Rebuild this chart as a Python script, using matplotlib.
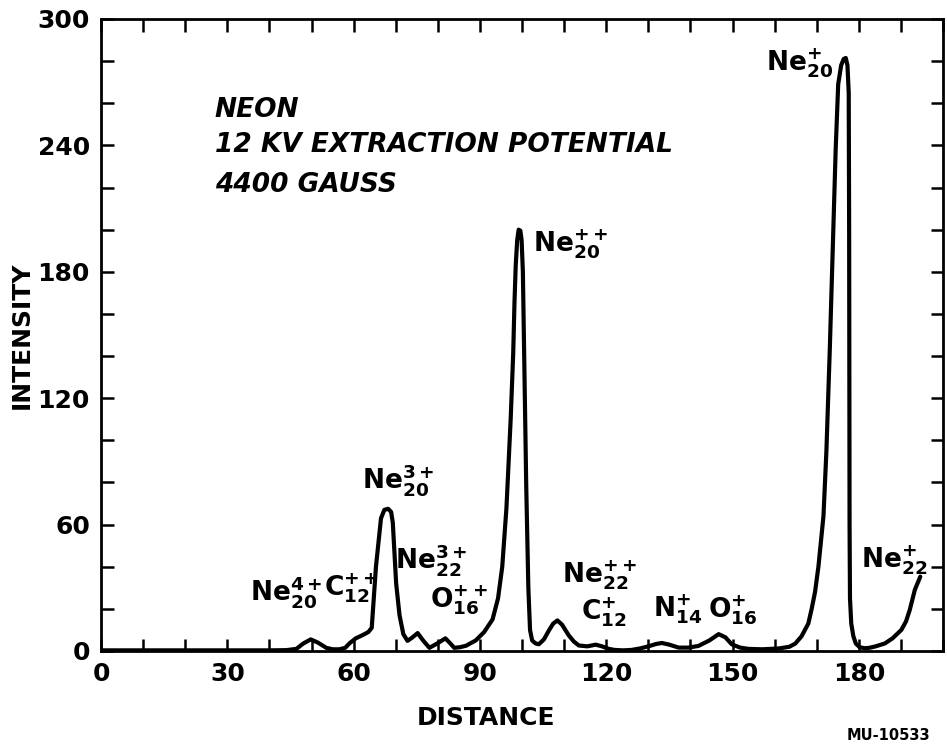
import matplotlib
matplotlib.use('Agg')
import matplotlib.pyplot as plt
from matplotlib.ticker import MultipleLocator

plt.rcParams['font.family'] = 'DejaVu Sans'
plt.rcParams['mathtext.fontset'] = 'custom'
plt.rcParams['mathtext.rm'] = 'DejaVu Sans:bold'
plt.rcParams['mathtext.it'] = 'DejaVu Sans:bold:italic'
plt.rcParams['mathtext.bf'] = 'DejaVu Sans:bold'

# trace (distance, intensity)
distance = [0, 10, 20, 30, 40, 44, 46.4, 48, 49.8, 51.5, 53.5, 55, 56.6, 58, 59, 60.5,
            62.2, 63.5, 64.3, 65.3, 66.5, 67.3, 68.2, 68.9, 69.3, 70.1, 70.9, 71.8, 72.8,
            74, 75.2, 76.5, 78, 79.8, 81.8, 83, 83.9, 85.3, 86.7, 89, 91, 93, 94.3, 95.3,
            96.3, 97.3, 97.9, 98.2, 98.5, 98.85, 99.2, 99.6, 99.9, 100.2, 100.5, 101.0,
            101.5, 101.9, 102.4, 103.2, 104, 105.2, 106.4, 107.4, 108.4, 109.5, 111.1,
            112.3, 113.5, 115.5, 117.5, 119, 120.6, 122, 124, 126, 128, 130, 131.8, 133.2,
            135, 137.2, 139.5, 141.9, 144.5, 146.7, 148.3, 149.8, 151.8, 153.8, 157, 161,
            163.5, 164.9, 166.4, 168, 168.8, 169.6, 170.4, 171.6, 172.3, 173.1, 173.8,
            174.5, 175.1, 175.8, 176.4, 176.9, 177.3, 177.6, 177.7, 177.75, 177.8, 177.9,
            178.2, 178.7, 179.3, 180.2, 181.4, 182.5, 184, 186.2, 188, 190.1, 191.2, 192.1,
            193.3, 194.6]
intensity = [0.3, 0.3, 0.3, 0.3, 0.3, 0.4, 1, 3.5, 5.5, 4, 1.5, 0.8, 0.8, 1.5, 3.6, 6,
             7.6, 9, 11, 40, 63, 67, 67.5, 66, 61, 32, 17, 8, 4.8,
             6.5, 8.5, 5, 1.5, 3.5, 6, 3.5, 1.5, 1.8, 2.5, 5, 9, 15, 25, 40,
             68, 110, 141, 165, 183, 195, 200, 199.5, 195, 180, 141, 78,
             30, 10, 5, 3.6, 3.2, 5.5, 9.8, 13, 14.5, 12.5, 7.4,
             4.5, 2.6, 2.2, 3, 2.2, 1, 0.5, 0.3, 0.5, 1.2, 2.2, 3.3, 3.8,
             3, 1.6, 1.6, 2.4, 5, 8, 6.5, 3.2, 1.6, 1, 0.8, 1.2,
             2, 3.5, 7, 13, 20, 28, 40, 64, 95, 143, 190,
             238, 269, 278, 281, 281.5, 278, 265, 200, 120, 60, 25,
             13, 7, 3.5, 1.8, 1.3, 1.5, 2.2, 3.6, 6, 10, 14, 19.5,
             29, 35.3]

# peak labels: text, x, y
peak_labels = [r'Ne$_{20}^{4+}$', r'C$_{12}^{++}$', r'Ne$_{20}^{3+}$', r'Ne$_{22}^{3+}$',
               r'O$_{16}^{++}$', r'Ne$_{20}^{++}$', r'Ne$_{22}^{++}$', r'C$_{12}^{+}$',
               r'N$_{14}^{+}$', r'O$_{16}^{+}$', r'Ne$_{20}^{+}$', r'Ne$_{22}^{+}$']
label_x = [44, 59.5, 70.5, 78.5, 85, 111.5, 118.5, 119.5, 137, 150, 166, 188.5]
label_y = [28, 30, 81, 43, 24, 193, 36, 18.5, 20, 19.5, 279, 43]

fig = plt.figure(figsize=(9.47, 7.48), dpi=100)
ax = fig.add_axes([0.1067, 0.1297, 0.8891, 0.8449])

ax.plot(distance, intensity, color='black', lw=3, solid_joinstyle='round',
        solid_capstyle='round')

ax.set_xlim(0, 200)
ax.set_ylim(0, 300)
ax.xaxis.set_major_locator(MultipleLocator(30))
ax.xaxis.set_minor_locator(MultipleLocator(10))
ax.yaxis.set_major_locator(MultipleLocator(60))
ax.yaxis.set_minor_locator(MultipleLocator(20))
ax.set_xticks([0, 30, 60, 90, 120, 150, 180])
ax.tick_params(which='both', direction='in', top=True, right=True, width=1.8,
               length=9, labelsize=18, pad=8)
for lab in ax.get_xticklabels() + ax.get_yticklabels():
    lab.set_fontweight('bold')
for s in ax.spines.values():
    s.set_linewidth(2)

ax.set_xlabel('DISTANCE', fontsize=18, fontweight='bold', va='center')
ax.set_ylabel('INTENSITY', fontsize=18, fontweight='bold', va='center')
ax.xaxis.set_label_coords(0.457, -0.106)
ax.yaxis.set_label_coords(-0.094, 0.5)

ax.text(27, 257, 'NEON', fontsize=19, style='italic', fontweight='bold', va='center')
ax.text(27, 240, '12 KV EXTRACTION POTENTIAL', fontsize=19, style='italic',
        fontweight='bold', va='center')
ax.text(27, 221, '4400 GAUSS', fontsize=19, style='italic', fontweight='bold',
        va='center')

for t, x, y in zip(peak_labels, label_x, label_y):
    ax.text(x, y, t, fontsize=19, fontweight='bold', ha='center', va='center')

fig.text(0.938, 0.011, 'MU-10533', fontsize=10.5, fontweight='bold', ha='center')

fig.savefig('out.png', dpi=100)
